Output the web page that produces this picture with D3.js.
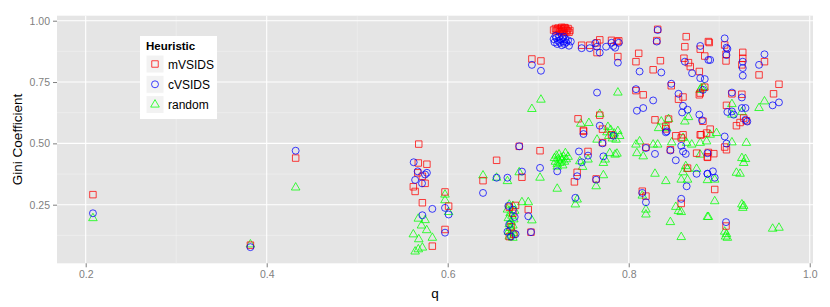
<!DOCTYPE html>
<meta charset="utf-8">
<style>
body { margin: 0; background: #fff; }
text { font-family: "Liberation Sans", Arial, sans-serif; }
.axis path { display: none; }
.axis line { stroke: #7f7f7f; }
.axis text { fill: #7f7f7f; font-size: 10.5px; }
.grid-major line { stroke: #fff; stroke-width: 1.1px; }
.grid-minor line { stroke: #f2f2f2; stroke-width: 0.6px; }
.pt { fill: none; stroke-width: 1px; stroke-opacity: 0.75; }
</style>
<svg width="830" height="307"></svg>
<script src="https://cdnjs.cloudflare.com/ajax/libs/d3/7.8.5/d3.min.js"></script>
<script>

// [q, gini] pairs
var mVSIDS = [
  [0.208,0.291],[0.382,0.085],[0.432,0.44],
  [0.568,0.497],[0.5675,0.42],[0.577,0.415],[0.567,0.38],[0.572,0.366],[0.575,0.337],[0.562,0.323],
  [0.564,0.304],[0.597,0.302],[0.572,0.258],[0.601,0.244],[0.597,0.149],[0.583,0.081],[0.639,0.348],
  [0.75,0.549],[0.679,0.488],[0.702,0.47],[0.654,0.431],[0.682,0.362],[0.755,0.467],[0.743,0.382],
  [0.740,0.343],[0.764,0.355],[0.675,0.247],[0.689,0.23],[0.692,0.138],
  [0.668,0.24],[0.672,0.215],[0.67,0.16],[0.673,0.13],[0.668,0.12],
  [0.852,0.531],[0.860,0.535],[0.858,0.522],[0.879,0.535],[0.886,0.542],[0.771,0.503],[0.819,0.484],
  [0.846,0.474],[0.875,0.46],[0.887,0.445],[0.865,0.399],[0.815,0.305],[0.819,0.285],[0.858,0.255],
  [0.906,0.485],[0.908,0.474],[0.888,0.463],[0.894,0.458],[0.887,0.443],[0.895,0.312],[0.9075,0.163],
  [0.693,0.844],[0.703,0.836],[0.748,0.90],[0.757,0.90],[0.765,0.87],[0.765,0.91],[0.768,0.922],
  [0.781,0.92],[0.787,0.915],[0.789,0.918],[0.788,0.854],[0.768,0.615],[0.744,0.60],[0.771,0.558],
  [0.781,0.535],[0.75,0.553],
  [0.811,0.867],[0.808,0.833],[0.835,0.837],[0.827,0.80],[0.832,0.965],[0.831,0.919],[0.862,0.894],
  [0.8635,0.935],[0.879,0.884],[0.888,0.915],[0.889,0.911],[0.884,0.856],[0.861,0.847],[0.866,0.829],
  [0.868,0.813],[0.878,0.793],[0.847,0.735],[0.808,0.715],[0.816,0.698],[0.860,0.689],[0.855,0.68],
  [0.879,0.705],[0.884,0.729],[0.878,0.698],[0.882,0.59],[0.829,0.596],[0.844,0.599],[0.89,0.558],
  [0.88,0.535],[0.841,0.57],[0.841,0.559],
  [0.906,0.901],[0.9075,0.863],[0.9075,0.836],[0.926,0.871],[0.926,0.847],[0.925,0.82],[0.95,0.833],
  [0.944,0.779],[0.966,0.741],[0.96,0.702],[0.914,0.702],[0.925,0.70],[0.908,0.655],[0.927,0.603],
  [0.930,0.592],[0.923,0.585],[0.919,0.572],
  [0.717,0.962],[0.719,0.968],[0.720,0.958],[0.722,0.970],[0.723,0.962],[0.724,0.955],[0.725,0.967],
  [0.726,0.973],[0.727,0.960],[0.728,0.966],[0.729,0.952],[0.730,0.970],[0.731,0.962],[0.732,0.958],
  [0.733,0.968],[0.734,0.953],[0.721,0.965],[0.726,0.957],[0.729,0.972],[0.735,0.960]
];

var cVSIDS = [
  [0.208,0.215],[0.382,0.077],[0.432,0.47],
  [0.5624,0.423],[0.5668,0.386],[0.577,0.38],[0.575,0.373],[0.564,0.351],[0.5716,0.337],[0.583,0.233],
  [0.597,0.237],[0.601,0.21],[0.572,0.207],[0.597,0.136],[0.639,0.298],
  [0.75,0.538],[0.679,0.488],[0.721,0.386],[0.702,0.40],[0.682,0.385],[0.666,0.36],[0.654,0.36],
  [0.745,0.467],[0.755,0.45],[0.748,0.423],[0.743,0.366],[0.764,0.352],[0.741,0.278],[0.689,0.203],
  [0.692,0.138],
  [0.667,0.245],[0.672,0.23],[0.674,0.20],[0.668,0.17],[0.675,0.13],[0.67,0.12],[0.666,0.14],
  [0.841,0.545],[0.858,0.49],[0.771,0.5],[0.772,0.447],[0.819,0.481],[0.829,0.457],[0.846,0.471],
  [0.852,0.431],[0.86,0.467],[0.863,0.457],[0.887,0.46],[0.875,0.376],[0.887,0.376],[0.864,0.325],
  [0.815,0.298],[0.819,0.26],[0.858,0.274],
  [0.906,0.528],[0.908,0.499],[0.893,0.386],[0.887,0.376],[0.895,0.36],[0.9075,0.179],
  [0.693,0.82],[0.703,0.796],[0.748,0.888],[0.757,0.888],[0.768,0.87],[0.763,0.908],[0.765,0.894],
  [0.775,0.894],[0.781,0.91],[0.783,0.897],[0.785,0.89],[0.789,0.91],[0.788,0.829],[0.765,0.707],
  [0.768,0.572],[0.783,0.531],
  [0.812,0.793],[0.836,0.789],[0.832,0.962],[0.831,0.915],[0.879,0.897],[0.888,0.84],[0.89,0.84],
  [0.862,0.833],[0.870,0.786],[0.879,0.766],[0.884,0.762],[0.847,0.743],[0.808,0.721],[0.827,0.675],
  [0.855,0.702],[0.86,0.653],[0.865,0.637],[0.859,0.626],[0.816,0.644],[0.809,0.633],[0.882,0.718],
  [0.878,0.617],[0.881,0.594],[0.842,0.549],
  [0.906,0.928],[0.908,0.89],[0.909,0.885],[0.908,0.86],[0.926,0.833],[0.926,0.807],[0.926,0.776],
  [0.95,0.863],[0.944,0.82],[0.959,0.655],[0.966,0.667],[0.914,0.707],[0.925,0.687],[0.929,0.644],
  [0.925,0.644],[0.909,0.628],[0.914,0.63],[0.916,0.617],[0.929,0.596],[0.931,0.589],
  [0.717,0.925],[0.718,0.912],[0.720,0.930],[0.721,0.905],[0.722,0.918],[0.723,0.935],[0.724,0.910],
  [0.725,0.922],[0.726,0.900],[0.727,0.928],[0.728,0.915],[0.729,0.905],[0.730,0.925],[0.731,0.912],
  [0.733,0.920],[0.734,0.898],[0.736,0.915],[0.719,0.938],[0.728,0.935]
];

var random = [
  [0.208,0.195],[0.382,0.088],[0.432,0.32],
  [0.597,0.291],[0.597,0.268],[0.601,0.22],[0.5675,0.193],[0.575,0.187],[0.571,0.165],[0.5768,0.146],
  [0.562,0.129],[0.568,0.109],[0.583,0.115],[0.572,0.075],[0.5675,0.068],[0.564,0.059],[0.639,0.369],
  [0.765,0.515],[0.679,0.382],[0.702,0.36],[0.666,0.346],[0.654,0.36],[0.721,0.315],[0.746,0.427],
  [0.755,0.434],[0.749,0.404],[0.764,0.325],[0.743,0.271],[0.741,0.251],[0.682,0.26],[0.689,0.26],
  [0.693,0.186],
  [0.718,0.44],[0.719,0.425],[0.720,0.45],[0.721,0.415],[0.722,0.435],[0.723,0.455],[0.724,0.42],
  [0.725,0.44],[0.726,0.43],[0.727,0.41],[0.728,0.445],[0.729,0.425],[0.730,0.46],[0.731,0.435],
  [0.733,0.445],[0.721,0.405],
  [0.668,0.25],[0.672,0.245],[0.666,0.23],[0.674,0.225],[0.669,0.215],[0.671,0.205],[0.667,0.195],
  [0.673,0.19],[0.670,0.18],[0.668,0.17],[0.672,0.165],[0.669,0.155],[0.671,0.145],[0.667,0.14],
  [0.673,0.135],[0.670,0.128],[0.668,0.12],[0.672,0.115],
  [0.8475,0.504],[0.864,0.502],[0.8696,0.495],[0.879,0.502],[0.886,0.508],[0.808,0.495],[0.812,0.508],
  [0.827,0.495],[0.832,0.495],[0.809,0.46],[0.816,0.447],[0.879,0.454],[0.772,0.42],[0.774,0.434],
  [0.779,0.46],[0.785,0.454],[0.787,0.458],[0.772,0.37],[0.829,0.376],[0.841,0.346],[0.86,0.382],
  [0.863,0.407],[0.865,0.396],[0.875,0.396],[0.858,0.352],[0.865,0.352],[0.887,0.35],[0.815,0.287],
  [0.852,0.241],[0.855,0.224],[0.858,0.22],[0.819,0.23],[0.819,0.21],[0.846,0.179],[0.858,0.118],
  [0.887,0.2],
  [0.776,0.545],[0.778,0.53],[0.78,0.555],[0.782,0.52],[0.784,0.54],[0.786,0.515],[0.788,0.55],[0.79,0.53],
  [0.914,0.504],[0.93,0.502],[0.925,0.44],[0.929,0.436],[0.927,0.42],[0.919,0.38],[0.923,0.376],
  [0.895,0.352],[0.895,0.264],[0.925,0.251],[0.926,0.237],[0.927,0.245],[0.888,0.2],[0.906,0.14],
  [0.908,0.13],[0.907,0.12],[0.909,0.115],[0.959,0.152],[0.966,0.156],
  [0.703,0.678],[0.693,0.64],[0.768,0.62],[0.747,0.58],[0.756,0.583],[0.777,0.567],[0.788,0.707],
  [0.836,0.589],[0.844,0.599],[0.833,0.562],[0.842,0.562],[0.862,0.589],[0.866,0.607],[0.89,0.535],
  [0.897,0.542],[0.86,0.522],[0.879,0.718],[0.88,0.725],[0.883,0.729],
  [0.914,0.66],[0.925,0.628],[0.914,0.617],[0.95,0.671],[0.944,0.644]
];

var heuristics = ["mVSIDS", "cVSIDS", "random"];
var colors = ["#ff0000", "#0000ff", "#00ff00"];
var xTicks = [0.2, 0.4, 0.6, 0.8, 1.0];
var yTicks = [0.25, 0.50, 0.75, 1.00];
var xMinor = [0.3, 0.5, 0.7, 0.9];
var yMinor = [0.125, 0.375, 0.625, 0.875];

var svg = d3.select("svg");

var x = d3.scaleLinear().domain([0.1683, 1.0036]).range([57, 813]);
var y = d3.scaleLinear().domain([0.0111, 1.0204]).range([263.3, 15.7]);

// panel background
svg.append("rect")
    .attr("x", x.range()[0]).attr("y", y.range()[1])
    .attr("width", x.range()[1] - x.range()[0])
    .attr("height", y.range()[0] - y.range()[1])
    .style("fill", "#e5e5e5");

var minor = svg.append("g").attr("class", "grid-minor");
minor.selectAll(".vx").data(xMinor).enter().append("line")
    .attr("x1", x).attr("x2", x).attr("y1", y.range()[0]).attr("y2", y.range()[1]);
minor.selectAll(".hy").data(yMinor).enter().append("line")
    .attr("y1", y).attr("y2", y).attr("x1", x.range()[0]).attr("x2", x.range()[1]);

var major = svg.append("g").attr("class", "grid-major");
major.selectAll(".vx").data(xTicks).enter().append("line")
    .attr("x1", x).attr("x2", x).attr("y1", y.range()[0]).attr("y2", y.range()[1]);
major.selectAll(".hy").data(yTicks).enter().append("line")
    .attr("y1", y).attr("y2", y).attr("x1", x.range()[0]).attr("x2", x.range()[1]);

// axes
svg.append("g").attr("class", "axis")
    .attr("transform", "translate(0," + y.range()[0] + ")")
    .call(d3.axisBottom(x).tickValues(xTicks).tickFormat(d3.format(".1f")).tickSize(4).tickPadding(3));

svg.append("g").attr("class", "axis")
    .attr("transform", "translate(" + x.range()[0] + ",0)")
    .call(d3.axisLeft(y).tickValues(yTicks).tickFormat(d3.format(".2f")).tickSize(4).tickPadding(3));

svg.append("text")
    .attr("x", (x.range()[0] + x.range()[1]) / 2).attr("y", 298)
    .attr("text-anchor", "middle").style("font-size", "13.5px")
    .text("q");

svg.append("text")
    .attr("transform", "translate(22," + ((y.range()[0] + y.range()[1]) / 2) + ") rotate(-90)")
    .attr("text-anchor", "middle").style("font-size", "13.5px")
    .text("Gini Coefficient");

// point shapes
var shapes = [d3.symbolSquare, d3.symbolCircle, d3.symbolTriangle];
var sizes = [42, 38, 32];

function drawSeries(data, i) {
  svg.append("g").selectAll("path")
    .data(data)
    .enter().append("path")
      .attr("class", "pt")
      .attr("transform", function(d) { return "translate(" + x(d[0]) + "," + y(d[1]) + ")"; })
      .attr("d", d3.symbol().type(shapes[i]).size(sizes[i]))
      .style("stroke", colors[i]);
}

drawSeries(random, 2);
drawSeries(mVSIDS, 0);
drawSeries(cVSIDS, 1);

// legend
var legend = svg.append("g").attr("transform", "translate(140,36)");
legend.append("rect")
    .attr("width", 77).attr("height", 83)
    .style("fill", "#fff");
legend.append("text")
    .attr("x", 6).attr("y", 14)
    .style("font-size", "11.5px").style("font-weight", "bold")
    .text("Heuristic");

var item = legend.selectAll(".item")
    .data(heuristics)
    .enter().append("g")
      .attr("transform", function(d, i) { return "translate(6," + (19 + i * 20.3) + ")"; });

item.append("rect")
    .attr("width", 18).attr("height", 18)
    .style("fill", "#f2f2f2").style("stroke", "#fff");

item.append("path")
    .attr("class", "pt")
    .attr("transform", "translate(9,9)")
    .attr("d", function(d, i) { return d3.symbol().type(shapes[i]).size(sizes[i])(); })
    .style("stroke", function(d, i) { return colors[i]; });

item.append("text")
    .attr("x", 22).attr("y", 13.5)
    .style("font-size", "12px")
    .text(function(d) { return d; });

</script>
